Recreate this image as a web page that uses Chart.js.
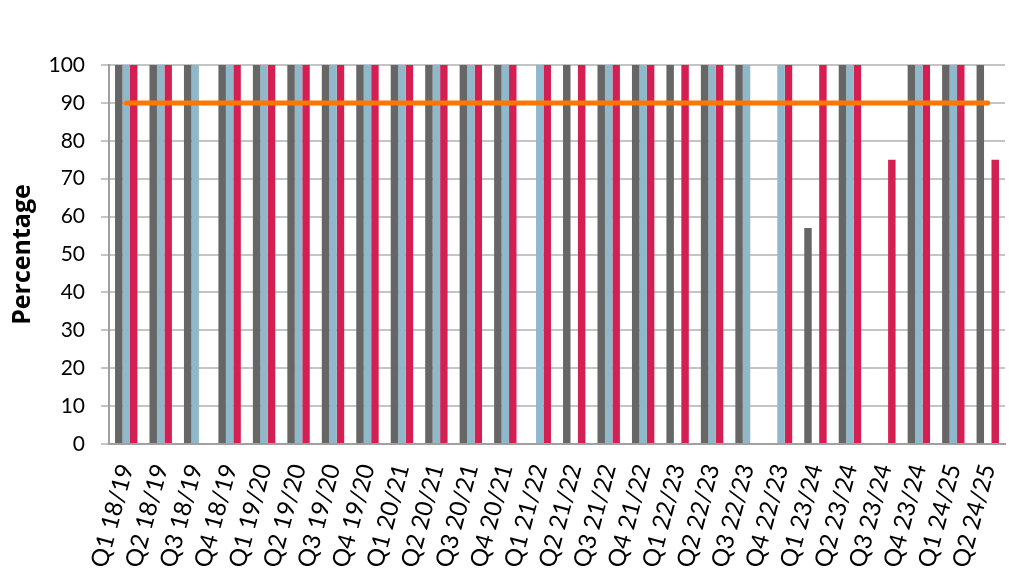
<!DOCTYPE html>
<html>
<head>
<meta charset="utf-8">
<script src="https://cdn.jsdelivr.net/npm/chart.js@4"></script>
<style>
  html, body { margin: 0; padding: 0; background: #fff; }
  #wrap { width: 1010px; height: 570px; }
</style>
</head>
<body>
<div id="wrap"><canvas id="myChart" width="1010" height="570"></canvas></div>
<script>
// categorias trimestrales
const quarters = ['Q1 18/19','Q2 18/19','Q3 18/19','Q4 18/19',
  'Q1 19/20','Q2 19/20','Q3 19/20','Q4 19/20',
  'Q1 20/21','Q2 20/21','Q3 20/21','Q4 20/21',
  'Q1 21/22','Q2 21/22','Q3 21/22','Q4 21/22',
  'Q1 22/23','Q2 22/23','Q3 22/23','Q4 22/23',
  'Q1 23/24','Q2 23/24','Q3 23/24','Q4 23/24',
  'Q1 24/25','Q2 24/25'];

// series (null = sin barra)
const greyVals = [100,100,100,100,100,100,100,100,100,100,100,100,null,100,100,100,100,100,100,null,57,100,null,100,100,100];
const blueVals = [100,100,100,100,100,100,100,100,100,100,100,100,100,null,100,100,null,100,100,100,null,100,null,100,100,null];
const redVals  = [100,100,null,100,100,100,100,100,100,100,100,100,100,100,100,100,100,100,null,100,100,100,75,100,100,75];
const targetVals = [90,90,90,90,90,90,90,90,90,90,90,90,90,90,90,90,90,90,90,90,90,90,90,90,90,90];

const yTicks = [0,10,20,30,40,50,60,70,80,90,100];

const fontFam = 'Lato, "Open Sans", sans-serif';

var ctx = document.getElementById('myChart').getContext('2d');
var myChart = new Chart(ctx, {
    type: 'bar',
    data: {
        labels: quarters,
        datasets: [{
            type: 'line',
            data: targetVals,
            borderColor: '#ff7700',
            borderWidth: 5,
            borderCapStyle: 'round',
            pointRadius: 0,
            fill: false,
            order: 0
        },
        {
            data: greyVals,
            backgroundColor: '#666666',
            order: 1
        },
        {
            data: blueVals,
            backgroundColor: '#8fb8ca',
            order: 1
        },
        {
            data: redVals,
            backgroundColor: '#d41f52',
            order: 1
        }]
    },
    options: {
        responsive: false,
        animation: false,
        layout: { padding: { top: 65, right: 5, left: 0, bottom: 0 } },
        datasets: {
            bar: { categoryPercentage: 0.65, barPercentage: 1.0 }
        },
        scales: {
            x: {
                grid: { display: false },
                border: { display: true, color: '#a0a0a0', width: 2 },
                ticks: {
                    color: '#000',
                    font: { family: fontFam, size: 24 },
                    minRotation: 75,
                    maxRotation: 75,
                    autoSkip: false,
                    padding: 9
                },
                afterFit: (scale) => {
                    scale.height = 126;
                    scale.paddingLeft = 0;
                    scale.paddingRight = 0;
                }
            },
            y: {
                min: 0,
                max: 100,
                afterBuildTicks: (scale) => { scale.ticks = yTicks.map(v => ({ value: v })); },
                grid: { color: '#c4c4c4', lineWidth: 2, tickLength: 8 },
                border: { display: true, color: '#a0a0a0', width: 2 },
                ticks: {
                    color: '#000',
                    font: { family: fontFam, size: 21 },
                    padding: 16
                },
                title: {
                    display: true,
                    text: 'Percentage',
                    color: '#000',
                    font: { family: '"Open Sans", sans-serif', size: 25, weight: 'bold' },
                    padding: { top: 8, bottom: 0 }
                },
                afterFit: (scale) => { scale.width = 109; }
            }
        },
        plugins: {
            legend: { display: false },
            tooltip: { enabled: false },
            title: { display: false }
        }
    }
});
</script>
</body>
</html>
